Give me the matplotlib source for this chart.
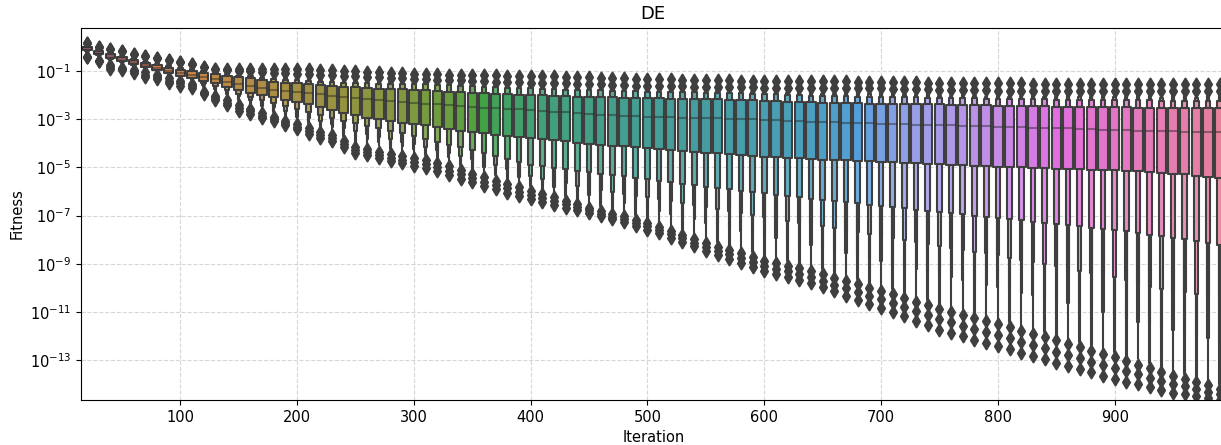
import colorsys
import numpy as np
import matplotlib
matplotlib.use("Agg")
import matplotlib.pyplot as plt
from matplotlib.patches import Rectangle
from matplotlib.collections import PatchCollection
from matplotlib.colors import LinearSegmentedColormap
from matplotlib.ticker import NullLocator
import seaborn as sns

# ---------------- data (log10 of fitness letter values) ----------------
ITERATIONS = list(range(20, 1000, 10))

MED_LOG = [-0.05, -0.25, -0.38, -0.53, -0.65, -0.76, -0.88, -1.00,
           -1.10, -1.19, -1.27, -1.36, -1.45, -1.55, -1.63, -1.71, -1.78, -1.83,
           -1.88, -1.93, -1.98, -2.03, -2.08, -2.12, -2.17, -2.22, -2.26, -2.29,
           -2.32, -2.36, -2.40, -2.43, -2.46, -2.50, -2.53, -2.55, -2.58, -2.60,
           -2.63, -2.66, -2.70, -2.73, -2.76, -2.79, -2.82, -2.84, -2.86, -2.88,
           -2.90, -2.91, -2.92, -2.94, -2.95, -2.96, -2.98, -2.99, -3.01, -3.02,
           -3.04, -3.06, -3.08, -3.10, -3.12, -3.13, -3.14, -3.15, -3.17, -3.18,
           -3.20, -3.21, -3.22, -3.23, -3.25, -3.26, -3.27, -3.29, -3.30, -3.31,
           -3.32, -3.33, -3.35, -3.36, -3.37, -3.38, -3.39, -3.41, -3.43, -3.44,
           -3.45, -3.46, -3.48, -3.49, -3.50, -3.51, -3.52, -3.52, -3.53, -3.53]

L1_HI = [0.00, -0.18, -0.30, -0.44, -0.56, -0.67, -0.78, -0.88,
         -0.97, -1.00, -1.08, -1.15, -1.20, -1.25, -1.31, -1.38, -1.45, -1.50,
         -1.53, -1.57, -1.60, -1.63, -1.66, -1.68, -1.71, -1.74, -1.76, -1.77,
         -1.78, -1.81, -1.84, -1.87, -1.89, -1.92, -1.94, -1.96, -1.98, -1.99,
         -2.00, -2.02, -2.04, -2.05, -2.07, -2.08, -2.09, -2.11, -2.12, -2.13,
         -2.14, -2.15, -2.16, -2.16, -2.17, -2.18, -2.19, -2.21, -2.22, -2.23,
         -2.24, -2.26, -2.28, -2.30, -2.31, -2.33, -2.34, -2.34, -2.35, -2.36,
         -2.36, -2.37, -2.38, -2.39, -2.40, -2.40, -2.41, -2.42, -2.43, -2.44,
         -2.45, -2.46, -2.47, -2.47, -2.48, -2.49, -2.49, -2.50, -2.50, -2.51,
         -2.51, -2.52, -2.53, -2.53, -2.54, -2.54, -2.55, -2.55, -2.56, -2.56]

L1_LO = [-0.14, -0.31, -0.46, -0.61, -0.74, -0.85, -0.96, -1.09,
         -1.20, -1.29, -1.42, -1.52, -1.68, -1.82, -1.92, -2.00, -2.10, -2.20,
         -2.30, -2.40, -2.50, -2.62, -2.74, -2.85, -2.94, -3.02, -3.10, -3.15,
         -3.20, -3.27, -3.34, -3.41, -3.48, -3.55, -3.60, -3.65, -3.70, -3.75,
         -3.80, -3.84, -3.89, -3.93, -3.98, -4.02, -4.06, -4.10, -4.14, -4.18,
         -4.22, -4.26, -4.29, -4.33, -4.36, -4.40, -4.43, -4.46, -4.50, -4.53,
         -4.56, -4.58, -4.61, -4.63, -4.66, -4.68, -4.70, -4.72, -4.74, -4.76,
         -4.78, -4.80, -4.82, -4.84, -4.86, -4.88, -4.90, -4.92, -4.94, -4.96,
         -4.98, -5.00, -5.01, -5.03, -5.04, -5.06, -5.07, -5.08, -5.10, -5.11,
         -5.12, -5.14, -5.16, -5.18, -5.22, -5.26, -5.30, -5.35, -5.40, -5.45]

L2_HI = [0.01, -0.16, -0.28, -0.41, -0.52, -0.63, -0.73, -0.82,
         -0.90, -0.95, -1.03, -1.10, -1.15, -1.20, -1.24, -1.29, -1.34, -1.38,
         -1.40, -1.43, -1.45, -1.47, -1.49, -1.50, -1.52, -1.54, -1.55, -1.56,
         -1.57, -1.57, -1.59, -1.61, -1.63, -1.65, -1.67, -1.69, -1.71, -1.72,
         -1.73, -1.75, -1.77, -1.78, -1.80, -1.81, -1.82, -1.84, -1.85, -1.86,
         -1.87, -1.88, -1.89, -1.89, -1.90, -1.91, -1.92, -1.93, -1.94, -1.95,
         -1.96, -1.98, -2.00, -2.02, -2.03, -2.05, -2.06, -2.06, -2.07, -2.08,
         -2.08, -2.09, -2.10, -2.11, -2.12, -2.12, -2.13, -2.14, -2.15, -2.16,
         -2.17, -2.18, -2.18, -2.18, -2.19, -2.20, -2.20, -2.21, -2.21, -2.21,
         -2.21, -2.22, -2.23, -2.23, -2.24, -2.24, -2.25, -2.25, -2.26, -2.26]

L2_LO = [-0.18, -0.34, -0.50, -0.63, -0.76, -0.86, -0.97, -1.10,
         -1.21, -1.32, -1.50, -1.64, -1.80, -1.95, -2.08, -2.20, -2.33, -2.46,
         -2.60, -2.72, -2.84, -2.96, -3.08, -3.18, -3.28, -3.38, -3.50, -3.60,
         -3.70, -3.82, -3.94, -4.06, -4.18, -4.30, -4.42, -4.54, -4.66, -4.78,
         -4.90, -4.96, -5.02, -5.08, -5.14, -5.20, -5.26, -5.32, -5.38, -5.44,
         -5.50, -5.56, -5.62, -5.68, -5.74, -5.80, -5.86, -5.91, -5.97, -6.02,
         -6.08, -6.13, -6.19, -6.24, -6.30, -6.35, -6.40, -6.45, -6.50, -6.55,
         -6.60, -6.65, -6.70, -6.75, -6.80, -6.85, -6.90, -6.95, -7.00, -7.05,
         -7.10, -7.15, -7.20, -7.25, -7.30, -7.35, -7.40, -7.45, -7.50, -7.55,
         -7.60, -7.66, -7.72, -7.80, -7.86, -7.92, -7.98, -8.05, -8.12, -8.20]

L3_HI = [0.02, -0.14, -0.25, -0.37, -0.48, -0.57, -0.66, -0.75,
         -0.83, -0.90, -1.00, -1.08, -1.12, -1.16, -1.19, -1.23, -1.27, -1.30,
         -1.32, -1.35, -1.37, -1.39, -1.41, -1.42, -1.44, -1.46, -1.48, -1.50,
         -1.52, -1.53, -1.54, -1.56, -1.57, -1.59, -1.60, -1.62, -1.64, -1.66,
         -1.67, -1.68, -1.70, -1.71, -1.73, -1.74, -1.75, -1.77, -1.78, -1.80,
         -1.81, -1.82, -1.82, -1.83, -1.84, -1.84, -1.85, -1.86, -1.87, -1.88,
         -1.89, -1.90, -1.92, -1.93, -1.94, -1.95, -1.96, -1.96, -1.97, -1.97,
         -1.98, -1.99, -2.00, -2.01, -2.02, -2.03, -2.04, -2.05, -2.06, -2.07,
         -2.08, -2.08, -2.09, -2.09, -2.09, -2.10, -2.10, -2.10, -2.10, -2.11,
         -2.11, -2.11, -2.12, -2.12, -2.12, -2.12, -2.13, -2.13, -2.13, -2.13]

L3_LO = [-0.21, -0.37, -0.54, -0.65, -0.77, -0.87, -0.98, -1.11,
         -1.22, -1.34, -1.58, -1.74, -1.90, -2.06, -2.22, -2.36, -2.52, -2.66,
         -2.80, -2.94, -3.08, -3.22, -3.36, -3.50, -3.62, -3.74, -3.84, -3.94,
         -4.04, -4.16, -4.28, -4.40, -4.52, -4.64, -4.78, -4.92, -5.06, -5.20,
         -5.36, -5.49, -5.58, -5.67, -5.76, -5.85, -5.93, -6.01, -6.09, -6.17,
         -6.25, -6.33, -6.41, -6.49, -6.57, -6.65, -6.73, -6.81, -6.89, -6.97,
         -7.05, -7.13, -7.21, -7.29, -7.37, -7.45, -7.53, -7.61, -7.69, -7.77,
         -7.85, -7.93, -8.01, -8.09, -8.17, -8.25, -8.33, -8.41, -8.49, -8.57,
         -8.65, -8.74, -8.83, -8.92, -9.01, -9.10, -9.19, -9.28, -9.37, -9.45,
         -9.54, -9.68, -9.82, -9.95, -10.03, -10.10, -10.18, -10.25, -10.33, -10.40]

L4_HI = [0.03, -0.13, -0.23, -0.34, -0.45, -0.53, -0.62, -0.70,
         -0.78, -0.87, -0.98, -1.06, -1.10, -1.14, -1.17, -1.20, -1.23, -1.26,
         -1.28, -1.31, -1.33, -1.35, -1.37, -1.38, -1.40, -1.42, -1.44, -1.46,
         -1.49, -1.50, -1.51, -1.53, -1.54, -1.56, -1.57, -1.59, -1.60, -1.62,
         -1.63, -1.64, -1.66, -1.67, -1.69, -1.70, -1.71, -1.73, -1.74, -1.76,
         -1.77, -1.78, -1.78, -1.79, -1.80, -1.80, -1.81, -1.82, -1.83, -1.83,
         -1.84, -1.85, -1.86, -1.87, -1.87, -1.88, -1.88, -1.88, -1.89, -1.89,
         -1.90, -1.91, -1.92, -1.93, -1.94, -1.95, -1.96, -1.97, -1.98, -1.99,
         -2.00, -2.00, -2.01, -2.01, -2.01, -2.02, -2.02, -2.02, -2.02, -2.03,
         -2.03, -2.03, -2.03, -2.03, -2.04, -2.04, -2.04, -2.04, -2.04, -2.04]

L4_LO = [-0.24, -0.39, -0.56, -0.67, -0.78, -0.88, -0.99, -1.12,
         -1.23, -1.36, -1.64, -1.80, -1.97, -2.15, -2.31, -2.47, -2.63, -2.78,
         -2.90, -3.05, -3.20, -3.34, -3.54, -3.72, -3.83, -3.94, -4.05, -4.14,
         -4.23, -4.34, -4.44, -4.58, -4.72, -4.85, -5.00, -5.13, -5.27, -5.41,
         -5.56, -5.70, -5.81, -5.92, -6.04, -6.16, -6.27, -6.36, -6.46, -6.56,
         -6.68, -6.80, -6.92, -7.04, -7.16, -7.30, -7.40, -7.52, -7.62, -7.74,
         -7.86, -7.94, -8.04, -8.14, -8.22, -8.34, -8.44, -8.56, -8.66, -8.78,
         -8.88, -9.00, -9.11, -9.22, -9.34, -9.46, -9.56, -9.66, -9.76, -9.86,
         -9.97, -10.08, -10.20, -10.30, -10.42, -10.53, -10.64, -10.76, -10.88, -10.98,
         -11.10, -11.24, -11.39, -11.54, -11.65, -11.76, -11.87, -11.97, -12.08, -12.18]

L5_HI = [0.04, -0.12, -0.22, -0.32, -0.42, -0.50, -0.58, -0.66,
         -0.74, -0.85, -0.96, -1.05, -1.09, -1.13, -1.15, -1.17, -1.20, -1.23,
         -1.25, -1.27, -1.29, -1.31, -1.33, -1.35, -1.37, -1.39, -1.41, -1.43,
         -1.46, -1.48, -1.49, -1.51, -1.52, -1.54, -1.55, -1.57, -1.58, -1.60,
         -1.61, -1.62, -1.64, -1.65, -1.67, -1.68, -1.69, -1.71, -1.72, -1.74,
         -1.75, -1.76, -1.76, -1.77, -1.78, -1.78, -1.79, -1.80, -1.81, -1.81,
         -1.82, -1.82, -1.83, -1.83, -1.83, -1.84, -1.84, -1.84, -1.85, -1.85,
         -1.85, -1.86, -1.87, -1.88, -1.89, -1.90, -1.91, -1.92, -1.93, -1.94,
         -1.95, -1.95, -1.95, -1.95, -1.95, -1.95, -1.95, -1.95, -1.95, -1.95,
         -1.95, -1.95, -1.95, -1.95, -1.95, -1.95, -1.95, -1.95, -1.95, -1.95]

L5_LO = [-0.26, -0.41, -0.58, -0.68, -0.79, -0.89, -1.00, -1.13,
         -1.24, -1.38, -1.68, -1.86, -2.04, -2.22, -2.38, -2.56, -2.72, -2.88,
         -3.00, -3.16, -3.32, -3.46, -3.72, -3.94, -4.04, -4.14, -4.25, -4.34,
         -4.42, -4.51, -4.60, -4.75, -4.91, -5.06, -5.21, -5.34, -5.48, -5.62,
         -5.76, -5.90, -6.04, -6.18, -6.32, -6.46, -6.60, -6.71, -6.82, -6.96,
         -7.11, -7.26, -7.42, -7.58, -7.76, -7.94, -8.08, -8.22, -8.36, -8.51,
         -8.66, -8.76, -8.87, -8.98, -9.08, -9.22, -9.36, -9.50, -9.64, -9.78,
         -9.91, -10.06, -10.21, -10.36, -10.51, -10.66, -10.78, -10.91, -11.04, -11.16,
         -11.29, -11.42, -11.56, -11.69, -11.82, -11.96, -12.10, -12.24, -12.38, -12.52,
         -12.66, -12.81, -12.96, -13.12, -13.27, -13.43, -13.56, -13.69, -13.82, -13.96]

OUT_LO_1 = [-0.44, -0.59, -0.77, -0.87, -0.97, -1.07, -1.17, -1.31,
            -1.42, -1.57, -1.87, -2.05, -2.23, -2.41, -2.57, -2.75, -2.91, -3.07,
            -3.21, -3.37, -3.53, -3.67, -3.93, -4.15, -4.25, -4.35, -4.46, -4.55,
            -4.63, -4.72, -4.81, -4.96, -5.12, -5.27, -5.42, -5.55, -5.69, -5.83,
            -5.97, -6.11, -6.25, -6.39, -6.53, -6.67, -6.81, -6.92, -7.03, -7.17,
            -7.32, -7.47, -7.63, -7.79, -7.97, -8.15, -8.29, -8.43, -8.57, -8.72,
            -8.87, -8.97, -9.08, -9.19, -9.29, -9.43, -9.57, -9.71, -9.85, -9.99,
            -10.12, -10.27, -10.42, -10.57, -10.72, -10.87, -10.99, -11.12, -11.25, -11.37,
            -11.50, -11.63, -11.77, -11.90, -12.03, -12.17, -12.31, -12.45, -12.59, -12.73,
            -12.87, -13.02, -13.17, -13.33, -13.48, -13.64, -13.77, -13.90, -14.03, -14.17]

OUT_LO_2 = [-0.44, -0.59, -0.85, -0.93, -1.03, -1.18, -1.25, -1.42,
            -1.53, -1.65, -1.93, -2.13, -2.34, -2.53, -2.68, -2.86, -3.00, -3.15,
            -3.32, -3.50, -3.66, -3.80, -4.05, -4.27, -4.38, -4.48, -4.60, -4.69,
            -4.78, -4.88, -4.99, -5.14, -5.30, -5.45, -5.60, -5.73, -5.87, -6.01,
            -6.15, -6.28, -6.41, -6.54, -6.66, -6.79, -6.92, -7.04, -7.15, -7.30,
            -7.45, -7.61, -7.77, -7.94, -8.12, -8.30, -8.46, -8.61, -8.76, -8.93,
            -9.09, -9.20, -9.31, -9.43, -9.54, -9.70, -9.86, -10.02, -10.17, -10.33,
            -10.47, -10.64, -10.80, -10.97, -11.14, -11.30, -11.43, -11.56, -11.70, -11.82,
            -11.95, -12.09, -12.23, -12.36, -12.49, -12.64, -12.78, -12.91, -13.05, -13.19,
            -13.32, -13.45, -13.58, -13.72, -13.85, -13.99, -14.08, -14.18, -14.29, -14.40]

OUT_LO_3 = [-0.44, -0.59, -0.93, -0.98, -1.08, -1.28, -1.33, -1.52,
            -1.63, -1.73, -1.98, -2.21, -2.44, -2.65, -2.78, -2.96, -3.09, -3.23,
            -3.42, -3.63, -3.79, -3.93, -4.17, -4.39, -4.51, -4.61, -4.73, -4.83,
            -4.93, -5.04, -5.16, -5.32, -5.48, -5.63, -5.78, -5.91, -6.05, -6.19,
            -6.33, -6.45, -6.57, -6.69, -6.79, -6.91, -7.03, -7.15, -7.27, -7.42,
            -7.58, -7.74, -7.91, -8.08, -8.27, -8.45, -8.62, -8.79, -8.95, -9.13,
            -9.30, -9.42, -9.54, -9.67, -9.78, -9.96, -10.14, -10.32, -10.49, -10.66,
            -10.82, -11.00, -11.18, -11.36, -11.55, -11.73, -11.86, -12.00, -12.14, -12.26,
            -12.40, -12.54, -12.68, -12.82, -12.95, -13.10, -13.24, -13.37, -13.50, -13.64,
            -13.77, -13.88, -13.99, -14.11, -14.22, -14.33, -14.38, -14.46, -14.54, -14.63]

OUT_HI_1 = [0.13, 0.00, -0.10, -0.20, -0.30, -0.38, -0.46, -0.54,
            -0.62, -0.73, -0.84, -0.93, -0.93, -0.93, -0.93, -0.93, -0.93, -0.93,
            -0.93, -0.95, -0.97, -0.99, -1.01, -1.03, -1.05, -1.07, -1.09, -1.11,
            -1.14, -1.15, -1.15, -1.16, -1.17, -1.17, -1.18, -1.19, -1.20, -1.20,
            -1.21, -1.22, -1.24, -1.25, -1.27, -1.28, -1.29, -1.31, -1.32, -1.34,
            -1.35, -1.36, -1.36, -1.37, -1.38, -1.38, -1.39, -1.40, -1.41, -1.41,
            -1.42, -1.42, -1.43, -1.43, -1.43, -1.44, -1.44, -1.44, -1.45, -1.45,
            -1.45, -1.46, -1.47, -1.48, -1.49, -1.49, -1.50, -1.51, -1.52, -1.52,
            -1.53, -1.53, -1.53, -1.54, -1.54, -1.54, -1.54, -1.55, -1.55, -1.55,
            -1.55, -1.55, -1.55, -1.56, -1.56, -1.56, -1.56, -1.56, -1.56, -1.56]

OUT_HI_2 = [0.13, 0.00, -0.10, -0.20, -0.30, -0.38, -0.46, -0.54,
            -0.62, -0.73, -0.84, -0.93, -0.97, -1.01, -1.03, -1.05, -1.08, -1.11,
            -1.13, -1.15, -1.17, -1.19, -1.21, -1.23, -1.25, -1.27, -1.29, -1.31,
            -1.34, -1.36, -1.37, -1.39, -1.40, -1.42, -1.43, -1.45, -1.46, -1.48,
            -1.49, -1.50, -1.52, -1.53, -1.55, -1.56, -1.57, -1.59, -1.60, -1.62,
            -1.63, -1.64, -1.64, -1.65, -1.66, -1.66, -1.67, -1.68, -1.69, -1.69,
            -1.70, -1.70, -1.71, -1.71, -1.71, -1.72, -1.72, -1.72, -1.73, -1.73,
            -1.73, -1.74, -1.75, -1.76, -1.77, -1.78, -1.79, -1.80, -1.81, -1.82,
            -1.83, -1.83, -1.83, -1.83, -1.83, -1.83, -1.83, -1.83, -1.83, -1.83,
            -1.83, -1.83, -1.83, -1.83, -1.83, -1.83, -1.83, -1.83, -1.83, -1.83]

X_TICKS = [100, 200, 300, 400, 500, 600, 700, 800, 900]
Y_TICK_EXP = [-1, -3, -5, -7, -9, -11, -13]

# ---------------- drawing ----------------
plt.rcParams['font.family'] = ['DejaVu Sans']
plt.rcParams['font.size'] = 10.5

fig = plt.figure(figsize=(12.21, 4.45), dpi=100)
ax = fig.add_axes([81 / 1221, 45 / 445, 1144.6 / 1221, 372.3 / 445])
ax.set_yscale('log')

n = len(ITERATIONS)
palette = [sns.desaturate(c, 0.75) for c in sns.husl_palette(n)]
lum = min(colorsys.rgb_to_hls(*c)[1] for c in palette) * 0.6
gray = (lum, lum, lum)
lw = 1.5
box_w = 8.0
level_w = [1.0, 0.5, 0.25, 0.125, 0.0625]
level_val = [0.0, 1 / 6, 2 / 6, 3 / 6, 4 / 6]
his = [L1_HI, L2_HI, L3_HI, L4_HI, L5_HI]
los = [L1_LO, L2_LO, L3_LO, L4_LO, L5_LO]
outs_all = [OUT_LO_1, OUT_LO_2, OUT_LO_3, OUT_HI_1, OUT_HI_2]

for i, it in enumerate(ITERATIONS):
    col = palette[i]
    cm0 = LinearSegmentedColormap.from_list('base', [col, (1, 1, 1)])
    cm = LinearSegmentedColormap.from_list('lv', [col, cm0(0.85)])
    med = 10 ** MED_LOG[i]
    ax.plot([it - box_w / 2, it + box_w / 2], [med, med], c='.15', alpha=.45,
            solid_capstyle='butt', lw=lw)
    ov = [10 ** a[i] for a in outs_all]
    ax.scatter([it] * len(ov), ov, marker='d', c=[gray], s=36, linewidths=lw)
    rects, vals = [], []
    for lev in reversed(range(5)):
        lo = 10 ** los[lev][i]
        hi = 10 ** his[lev][i]
        w = box_w * level_w[lev]
        rects.append(Rectangle((it - w / 2, lo), w, hi - lo))
        vals.append(level_val[lev])
    pc = PatchCollection(rects, cmap=cm, edgecolor=gray, linewidth=lw)
    pc.set_array(np.array(vals))
    pc.set_clim(0, 1)
    ax.add_collection(pc)

ax.set_xlim(15, 995)
ax.set_ylim(10 ** -14.64, 10 ** 0.78)
ax.set_xticks(X_TICKS)
ax.set_yticks([10.0 ** e for e in Y_TICK_EXP])
ax.yaxis.set_minor_locator(NullLocator())
ax.set_axisbelow(True)
ax.grid(True, linestyle='--', alpha=0.5)
ax.set_xlabel('Iteration')
ax.set_ylabel('Fitness')
ax.set_title('DE', fontsize=13)

fig.savefig('out.png', dpi=100)
